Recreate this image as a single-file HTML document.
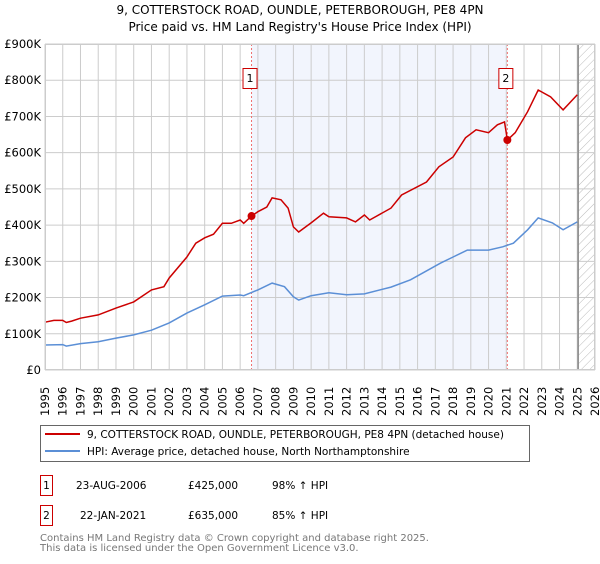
<!DOCTYPE html>
<html><head><meta charset="utf-8"><style>
body{margin:0;background:#fff;font-family:"DejaVu Sans","Liberation Sans",sans-serif;}
svg text{font-family:"DejaVu Sans","Liberation Sans",sans-serif;}
</style></head><body>
<svg id="chart" width="600" height="560" xmlns="http://www.w3.org/2000/svg">
<defs><pattern id="hatch" width="6" height="6" patternUnits="userSpaceOnUse" patternTransform="rotate(45)"><line x1="0" y1="0" x2="0" y2="6" stroke="#bbb" stroke-width="1"/></pattern></defs>
<text x="300" y="14" text-anchor="middle" font-size="12">9, COTTERSTOCK ROAD, OUNDLE, PETERBOROUGH, PE8 4PN</text>
<text x="300" y="31" text-anchor="middle" font-size="12">Price paid vs. HM Land Registry's House Price Index (HPI)</text>
<g id="plot"></g>
<g>
<rect x="40.5" y="425.5" width="489" height="36" fill="#fff" stroke="#666"/>
<line x1="45" y1="434" x2="80" y2="434" stroke="#cc0000" stroke-width="2"/>
<text x="87" y="438" font-size="10.5">9, COTTERSTOCK ROAD, OUNDLE, PETERBOROUGH, PE8 4PN (detached house)</text>
<line x1="45" y1="451" x2="80" y2="451" stroke="#5b8fd6" stroke-width="2"/>
<text x="87" y="455" font-size="10.5">HPI: Average price, detached house, North Northamptonshire</text>
</g>
<g font-size="10.5">
<rect x="40.5" y="475.5" width="12" height="20" fill="#fff" stroke="#cc0000"/>
<text x="46.5" y="489" text-anchor="middle">1</text>
<text x="76" y="489">23-AUG-2006</text><text x="188" y="489">£425,000</text><text x="272" y="489">98% ↑ HPI</text>
<rect x="40.5" y="505.5" width="12" height="20" fill="#fff" stroke="#cc0000"/>
<text x="46.5" y="519" text-anchor="middle">2</text>
<text x="80" y="519">22-JAN-2021</text><text x="188" y="519">£635,000</text><text x="272" y="519">85% ↑ HPI</text>
</g>
<text x="40" y="541" font-size="10" fill="#777">Contains HM Land Registry data © Crown copyright and database right 2025.</text>
<text x="40" y="551" font-size="10" fill="#777">This data is licensed under the Open Government Licence v3.0.</text>
</svg>
<script>
const yearTicks=[1995,1996,1997,1998,1999,2000,2001,2002,2003,2004,2005,2006,2007,2008,2009,2010,2011,2012,2013,2014,2015,2016,2017,2018,2019,2020,2021,2022,2023,2024,2025,2026];
const valueTicks=[0,100000,200000,300000,400000,500000,600000,700000,800000,900000];
const valueLabels=["£0","£100K","£200K","£300K","£400K","£500K","£600K","£700K","£800K","£900K"];
const propYears=[1995,1995.5,1996,1996.2,1996.5,1997,1998,1999,2000,2001,2001.7,2002,2003,2003.5,2004,2004.5,2005,2005.5,2006,2006.2,2006.64,2007,2007.5,2007.8,2008.3,2008.7,2009,2009.3,2010,2010.7,2011,2012,2012.5,2013,2013.3,2014.5,2015.1,2016.5,2017.2,2018,2018.7,2019.3,2020,2020.5,2020.9,2021.06,2021.5,2022.2,2022.8,2023.5,2024.2,2025];
const propValues=[132000,137000,137000,131000,135000,143000,152000,171000,188000,221000,230000,254000,312000,350000,365000,375000,405000,405000,414000,405000,425000,437000,450000,475000,470000,447000,395000,381000,406000,433000,423000,420000,409000,428000,414000,447000,483000,519000,561000,588000,641000,663000,655000,677000,685000,635000,655000,713000,773000,754000,718000,760000];
const hpiYears=[1995,1996,1996.2,1997,1998,1999,2000,2001,2002,2003,2004,2005,2006,2006.2,2007,2007.8,2008.5,2009,2009.3,2010,2011,2012,2013,2014.5,2015.6,2017.3,2018,2018.8,2020,2020.8,2021.4,2022.2,2022.8,2023.6,2024.2,2025];
const hpiValues=[69000,70000,66000,73000,78000,88000,97000,110000,130000,157000,180000,204000,207000,205000,221000,240000,230000,202000,193000,205000,213000,208000,210000,229000,249000,295000,312000,331000,331000,340000,350000,387000,420000,406000,387000,409000];
const saleYears=[2006.64,2021.06];
const saleValues=[425000,635000];
const saleLabels=["1","2"];

const X0=45,X1=595,Y0=370,Y1=44;
const xs=y=>X0+(y-1995)/(2026-1995)*(X1-X0);
const ys=v=>Y0-v/900000*(Y0-Y1);
const NS="http://www.w3.org/2000/svg";
const g=document.getElementById('plot');
function mk(t,a,p){const e=document.createElementNS(NS,t);for(const k in a)e.setAttribute(k,a[k]);(p||g).appendChild(e);return e;}
let e;
e=mk('rect',{x:xs(saleYears[0]),y:Y1,width:xs(saleYears[1])-xs(saleYears[0]),height:Y0-Y1,fill:'#f2f5fd'});


e=mk('rect',{x:xs(2025.05),y:Y1,width:X1-xs(2025.05),height:Y0-Y1,fill:'url(#hatch)'});


yearTicks.forEach(yr=>{
 e=mk('line',{x1:xs(yr),x2:xs(yr),y1:Y1,y2:Y0,stroke:'#ccc','stroke-width':1});
 
 
 const x=xs(yr);
 e=mk('text',{x:0,y:0,transform:`translate(${x+4},${Y0+46}) rotate(-90)`,'font-size':11.5});
 e.textContent=yr;
 
 
});
valueTicks.forEach((v,i)=>{
 e=mk('line',{x1:X0,x2:X1,y1:ys(v),y2:ys(v),stroke:'#ccc','stroke-width':1});
 
 
 e=mk('text',{x:X0-4,y:ys(v)+4,'text-anchor':'end','font-size':11.5});
 e.textContent=valueLabels[i];
 
 
});
e=mk('line',{x1:xs(2025.05),x2:xs(2025.05),y1:Y1,y2:Y0,stroke:'#888','stroke-width':1.5});


saleYears.forEach((yr,i)=>{
 e=mk('line',{x1:xs(yr),x2:xs(yr),y1:Y1,y2:Y0,stroke:'#f07070','stroke-dasharray':'2,2','stroke-width':1});
 
 
 e=mk('rect',{x:xs(yr)-8.5,y:68.5,width:14,height:20,fill:'#fff',stroke:'#cc0000'});
 
 
 e=mk('text',{x:xs(yr)-1.5,y:82,'text-anchor':'middle','font-size':11});
 e.textContent=saleLabels[i];
 
 
});
e=mk('path',{d:hpiYears.map((y,i)=>(i?'L':'M')+xs(y).toFixed(1)+','+ys(hpiValues[i]).toFixed(1)).join(''),fill:'none',stroke:'#5b8fd6','stroke-width':1.5});


e=mk('path',{d:propYears.map((y,i)=>(i?'L':'M')+xs(y).toFixed(1)+','+ys(propValues[i]).toFixed(1)).join(''),fill:'none',stroke:'#cc0000','stroke-width':1.5});


saleYears.forEach((yr,i)=>{
 e=mk('circle',{cx:xs(yr),cy:ys(saleValues[i]),r:4,fill:'#cc0000'});
 
 
});
e=mk('rect',{x:X0+0.5,y:Y1+0.5,width:X1-X0-1,height:Y0-Y1-1,fill:'none',stroke:'#ccc'});


</script>
</body></html>
